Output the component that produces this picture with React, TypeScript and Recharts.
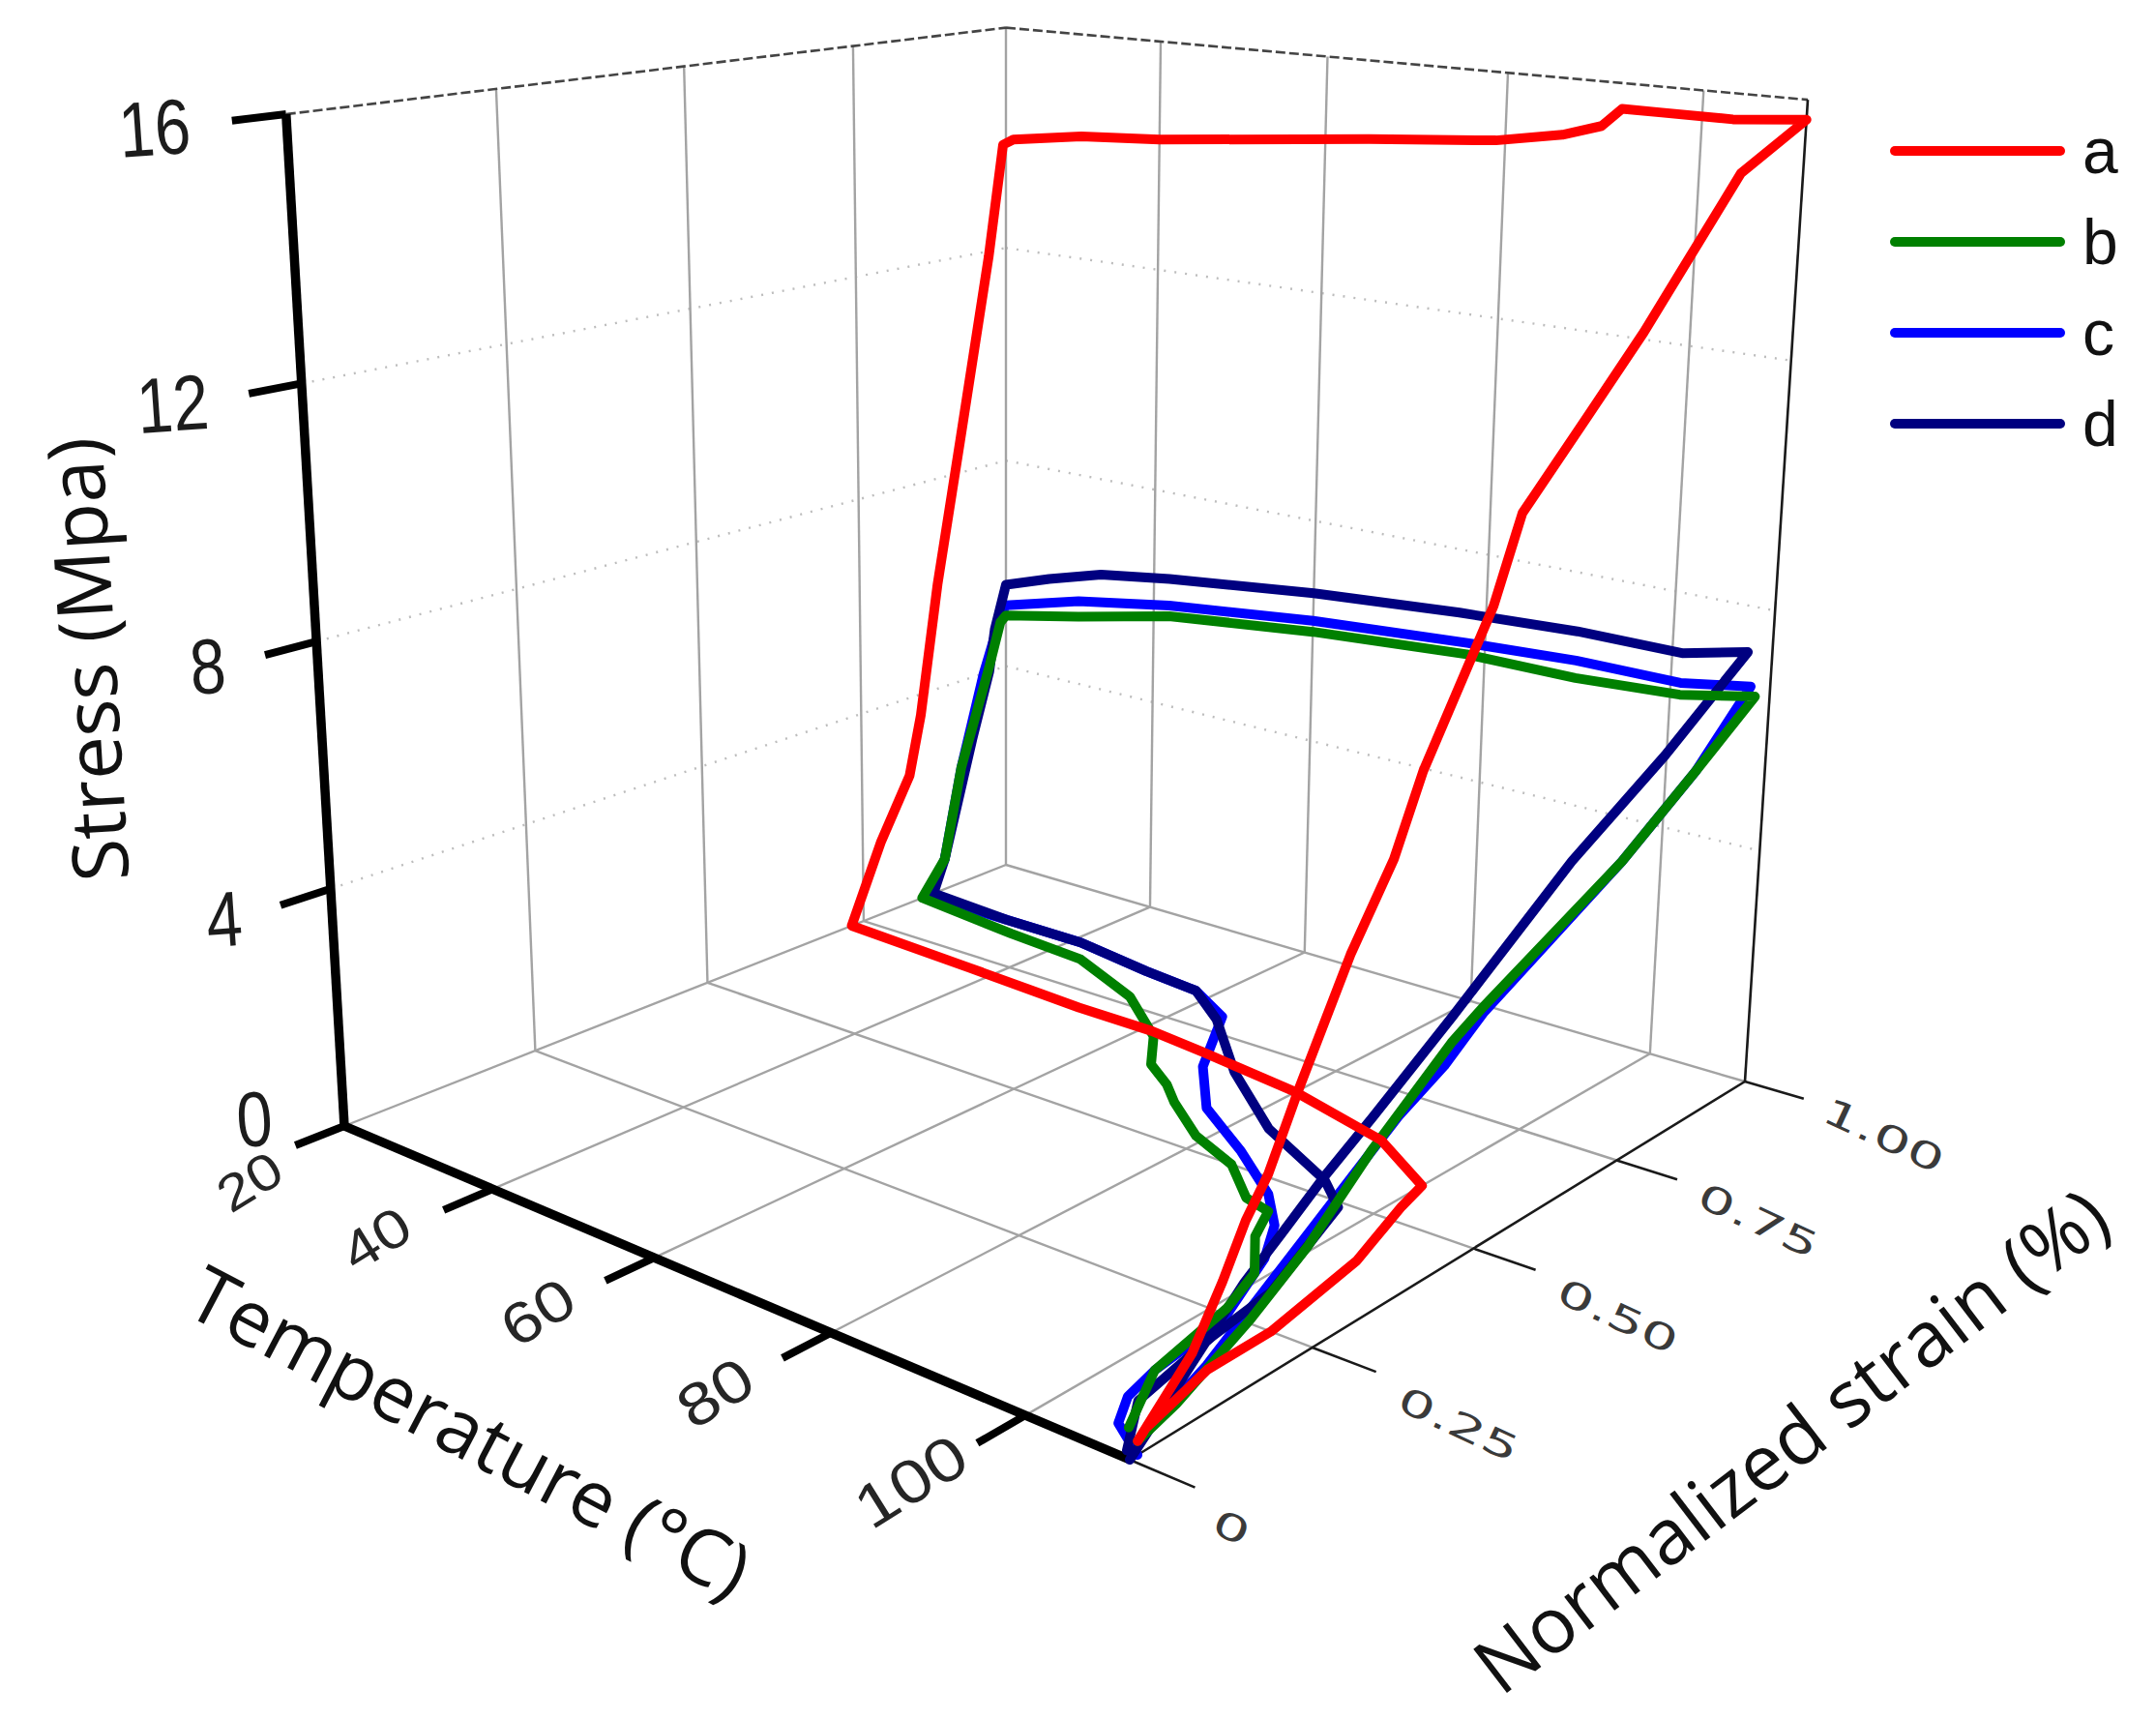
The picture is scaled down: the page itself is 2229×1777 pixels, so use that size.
import { ComposedChart, Legend, Line, Scatter, XAxis, YAxis } from "recharts"

const WIDTH = 2229
const HEIGHT = 1777

// a: temperature (°C), normalized strain, stress (MPa) along the cycle
const aTemp = [110,110,110,110,110,110,110,110,110,110,110,110,110,110,110,110,110,110, 103,96,92,90,86,79,65,40,30,21, 20,20,20,20,20,20,20,20, 37,52,61,68,80,92,100,101,103,104,106,106,108]
const aStrain = [0.01,0.08,0.12,0.15,0.18,0.22,0.29,0.35,0.39,0.46,0.49,0.52,0.53,0.63,0.72,0.8,0.88,1, 1,1,1,1,1,1,1,1,1,1, 0.995,0.97,0.92,0.88,0.85,0.83,0.78,0.73, 0.72,0.71,0.71,0.7,0.68,0.64,0.58,0.53,0.45,0.41,0.25,0.16,0.05]
const aStress = [0.2,1,1.8,2.5,3,4,5.6,6.7,7.8,9.2,9.8,10.7,11,12.1,13.1,14.1,15.1,15.7, 15.6,15.6,15.6,15.3,15.1,14.9,14.7,14.3,14.2,14, 13.9,11.9,8.6,6,3.6,2.5,1.4,0, 0,0,0,0,0,0,0,0,0,0,0,0,0]

const bTemp = [110,110,110,110,110,110,110,110,110,110,110, 101,90,78,60,42,30,20, 20,20,20,20,20, 34,44,54,62,66,70,73,79,85,90,93,95,99,101,103,107]
const bStrain = [0.01,0.06,0.11,0.16,0.24,0.33,0.45,0.5,0.73,0.86,0.97, 1,1,1,1,1,1,1, 0.99,0.97,0.92,0.89,0.85, 0.83,0.82,0.77,0.7,0.64,0.61,0.58,0.53,0.5,0.45,0.44,0.39,0.33,0.26,0.13,0.04]
const bStress = [0.2,0.4,0.7,1,1.6,2.5,3.5,3.8,5,5.9,6.7, 6.3,6.2,6.2,6,5.7,5.3,5, 4.9,4.1,2.3,0.6,0, 0,0,0,0,0,0,0,0,0,0,0,0,0,0,0,0]

const cTemp = [110,110,110,110,110,110,110,110, 101,90,78,60,42,30,20, 20,20,20,20,20, 31,41,51,58,64,70,76,84,91,95,98,102,103,104,106,110]
const cStrain = [0.01,0.1,0.37,0.44,0.5,0.73,0.86,0.96, 1,1,1,1,1,1,1, 0.99,0.96,0.92,0.89,0.86, 0.86,0.86,0.84,0.83,0.79,0.67,0.59,0.53,0.47,0.42,0.36,0.24,0.13,0.08,0.04,0.01]
const cStress = [0.2,0.7,2.8,3.2,3.7,5,5.9,6.9, 6.5,6.5,6.4,6.2,5.9,5.6,5.2, 5,4,2.3,0.6,0, 0,0,0,0,0,0,0,0,0,0,0,0,0,0,0,0]

const dTemp = [110,110,110,110,110,110,110,110,110, 101,90,77,60,42,33,26,20, 20,20,20,20,20, 31,41,51,58,64,73,83,93,97,102,103,105,109]
const dStrain = [0,0.15,0.2,0.26,0.33,0.45,0.64,0.8,0.95, 1,1,1,1,1,1,1,1, 0.98,0.97,0.94,0.89,0.87, 0.86,0.86,0.84,0.83,0.78,0.68,0.59,0.53,0.49,0.31,0.21,0.08,0.01]
const dStress = [0,1.6,2,2.5,3,3.9,5.4,6.4,7.5, 7,7,6.9,6.7,6.4,6.2,5.9,5.6, 4.8,4,2.8,0.6,0, 0,0,0,0,0,0,0,0,0,0,0,0,0]

const tempTicks = [20, 40, 60, 80, 100]
const strainTicks = [0, 0.25, 0.5, 0.75, 1]
const stressTicks = [0, 4, 8, 12, 16]
const strainLabels = ["0", "0.25", "0.50", "0.75", "1.00"]
const seriesNames = ["a", "b", "c", "d"]

const T_MIN = 20
const T_MAX = 110
const STRESS_MAX = 16

// camera of the 3D box: temperature, strain, stress -> page position
const camera = [
  [595.73, 909.65, -84.17, 356],
  [65.59, -76.02, -1055.5, 1164],
  [-0.18516, 0.21697, -0.08093, 1],
]

function project(temp: number, strain: number, stress: number) {
  const v = [(temp - T_MIN) / (T_MAX - T_MIN), strain, stress / STRESS_MAX, 1]
  const dot = (row: number[]) => row.reduce((sum, c, i) => sum + c * v[i], 0)
  const w = dot(camera[2])
  return { px: dot(camera[0]) / w, py: dot(camera[1]) / w }
}

const toPoints = (temps: number[], strains: number[], stresses: number[]) =>
  temps.map((t, i) => project(t, strains[i], stresses[i]))

const series = [
  { name: "c", color: "#0000ff", points: toPoints(cTemp, cStrain, cStress) },
  { name: "d", color: "#000080", points: toPoints(dTemp, dStrain, dStress) },
  { name: "b", color: "#008000", points: toPoints(bTemp, bStrain, bStress) },
  { name: "a", color: "#ff0000", points: toPoints(aTemp, aStrain, aStress) },
]

const seg = (a: number[], b: number[]) => [project(a[0], a[1], a[2]), project(b[0], b[1], b[2])]

const gridStyle = { stroke: "#a3a3a3", width: 2.4 }
const wallGrid = [
  ...strainTicks.slice(1).map((s) => seg([T_MIN, s, 0], [T_MIN, s, STRESS_MAX])),
  ...tempTicks.slice(1).map((t) => seg([t, 1, 0], [t, 1, STRESS_MAX])),
]
const floorGrid = [
  ...tempTicks.slice(1).map((t) => seg([t, 0, 0], [t, 1, 0])),
  seg([T_MIN, 0, 0], [T_MIN, 1, 0]),
  ...strainTicks.slice(1).map((s) => seg([T_MIN, s, 0], [T_MAX, s, 0])),
]
const dottedGrid = stressTicks.slice(1, 4).flatMap((v) => [
  seg([T_MIN, 0, v], [T_MIN, 1, v]),
  seg([T_MIN, 1, v], [T_MAX, 1, v]),
])
const topEdges = [seg([T_MIN, 0, STRESS_MAX], [T_MIN, 1, STRESS_MAX]), seg([T_MIN, 1, STRESS_MAX], [T_MAX, 1, STRESS_MAX])]

const heavyAxes = [
  seg([T_MIN, 0, 0], [T_MIN, 0, STRESS_MAX]),
  seg([T_MIN, 0, 0], [T_MAX, 0, 0]),
  ...stressTicks.map((v) => seg([T_MIN, 0, v], [T_MIN, -0.06, v])),
  ...tempTicks.slice(1).map((t) => seg([t, 0, 0], [t, -0.06, 0])),
]
const lightAxes = [
  seg([T_MAX, 0, 0], [T_MAX, 1, 0]),
  seg([T_MAX, 1, 0], [T_MAX, 1, STRESS_MAX]),
  ...strainTicks.map((s) => seg([T_MAX, s, 0], [T_MAX + 6, s, 0])),
]

const SANS = "Liberation Sans"
const TITLE = "Open Sans"
const WIDE = "DejaVu Sans"

const textRows = [
  ...stressTicks.map((v) => ({
    ...(v === 0 ? project(T_MIN, -0.085, 0.6) : project(T_MIN, -0.105, v)),
    text: String(v), anchor: "end", size: 70, rotate: -4, sx: 0.95, sy: 1.15, font: SANS, fill: "#1c1c1c",
  })),
  ...tempTicks.map((t, i) => ({
    ...project(t === 20 ? 23 : t, -0.14, 0),
    text: String(t), anchor: "middle", size: [62, 66, 70, 72, 74][i], rotate: -32, sx: 1, sy: 0.85, font: SANS, fill: "#262626",
  })),
  ...strainTicks.map((s, i) => ({
    ...project(i === 0 ? 121.3 : 125.3, s - 0.03, 0),
    text: strainLabels[i], anchor: "middle", size: 60, rotate: 25, sx: 1, sy: 0.62, font: WIDE, fill: "#3a3a3a",
  })),
]
const titleRows = [
  { px: 88, py: 682, text: "Stress (Mpa)", anchor: "middle", size: 80, rotate: -93.5, sx: 1, sy: 1, font: TITLE, fill: "#111" },
  { px: 487, py: 1478, text: "Temperature (°C)", anchor: "middle", size: 80, rotate: 27.7, sx: 1, sy: 1, font: TITLE, fill: "#111" },
  { px: 1850, py: 1487, text: "Normalized strain (%)", anchor: "middle", size: 80, rotate: -37.4, sx: 1, sy: 1, font: TITLE, fill: "#111" },
]

function LabelText(props: any) {
  const { cx, cy, payload: p } = props
  return (
    <text
      transform={`translate(${cx},${cy}) rotate(${p.rotate}) scale(${p.sx},${p.sy})`}
      textAnchor={p.anchor}
      dominantBaseline="central"
      fontFamily={p.font}
      fontSize={p.size}
      fill={p.fill}
    >
      {p.text}
    </text>
  )
}

function LegendBox({ payload }: any) {
  const items = (payload ?? [])
    .filter((x: any) => seriesNames.includes(x.value))
    .sort((x: any, y: any) => String(x.value).localeCompare(String(y.value)))
  return (
    <div>
      {items.map((item: any) => (
        <div key={item.value} style={{ display: "flex", alignItems: "center", height: 94 }}>
          <div style={{ width: 181, height: 10, borderRadius: 5, background: item.color }} />
          <span style={{ marginLeft: 18, fontFamily: SANS, fontSize: 66, color: "#111", lineHeight: "94px" }}>{item.value}</span>
        </div>
      ))}
    </div>
  )
}

const plain = { dot: false, activeDot: false, isAnimationActive: false, legendType: "none" as const, type: "linear" as const, dataKey: "py" }

export default function App() {
  return (
    <div style={{ position: "absolute", left: 0, top: 0, background: "#fff" }}>
      <ComposedChart width={WIDTH} height={HEIGHT} margin={{ top: 0, right: 0, bottom: 0, left: 0 }}>
        <XAxis type="number" dataKey="px" domain={[0, WIDTH]} hide allowDataOverflow />
        <YAxis type="number" dataKey="py" domain={[0, HEIGHT]} reversed hide allowDataOverflow />

        {dottedGrid.map((d, i) => (
          <Line key={`dot${i}`} {...plain} data={d} stroke="#bdbdbd" strokeWidth={2.4} strokeDasharray="2 9" />
        ))}
        {wallGrid.map((d, i) => (
          <Line key={`wall${i}`} {...plain} data={d} stroke={gridStyle.stroke} strokeWidth={gridStyle.width} />
        ))}
        {floorGrid.map((d, i) => (
          <Line key={`floor${i}`} {...plain} data={d} stroke={gridStyle.stroke} strokeWidth={gridStyle.width} />
        ))}
        {topEdges.map((d, i) => (
          <Line key={`top${i}`} {...plain} data={d} stroke="#444" strokeWidth={2.6} strokeDasharray="10 4" />
        ))}
        {lightAxes.map((d, i) => (
          <Line key={`thin${i}`} {...plain} data={d} stroke="#1a1a1a" strokeWidth={2.6} />
        ))}
        {heavyAxes.map((d, i) => (
          <Line key={`heavy${i}`} {...plain} data={d} stroke="#000" strokeWidth={i < 2 ? 9.5 : 8} />
        ))}

        {series.map((s) => (
          <Line
            key={s.name}
            data={s.points}
            name={s.name}
            dataKey="py"
            type="linear"
            stroke={s.color}
            strokeWidth={10}
            strokeLinejoin="round"
            strokeLinecap="round"
            dot={false}
            activeDot={false}
            isAnimationActive={false}
          />
        ))}

        <Scatter data={textRows} shape={LabelText} isAnimationActive={false} legendType="none" />
        <Scatter data={titleRows} shape={LabelText} isAnimationActive={false} legendType="none" />

        <Legend
          layout="vertical"
          align="center"
          verticalAlign="middle"
          content={LegendBox}
          wrapperStyle={{ left: 1954, top: 109, width: 260 }}
        />
      </ComposedChart>
    </div>
  )
}
